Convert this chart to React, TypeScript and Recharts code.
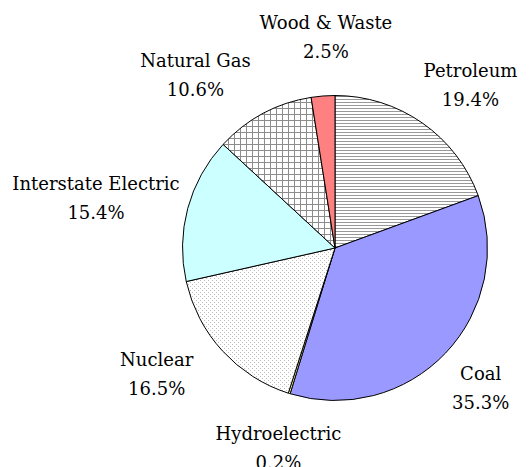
import { Cell, Pie, PieChart } from "recharts";

const categories = [
  "Petroleum",
  "Coal",
  "Hydroelectric",
  "Nuclear",
  "Interstate Electric",
  "Natural Gas",
  "Wood & Waste",
];
const shares = [19.4, 35.3, 0.2, 16.5, 15.4, 10.6, 2.5];

const fills = [
  "url(#hatchLines)",
  "#9999ff",
  "#ffff99",
  "url(#dots)",
  "#ccffff",
  "url(#grid)",
  "#ff8080",
];

// label placement tweaks (like Excel's best-fit), relative to radial anchor
const labelNudge = [
  [18, 4],
  [-3, -2],
  [5, 3.5],
  [-27, -13.5],
  [-41, 2.5],
  [-43, 7],
  [7, -8],
];

const data = categories.map((name, i) => ({ name, value: shares[i] }));

const RAD = Math.PI / 180;
const LABEL_RADIUS = 205;

function renderLabel(props: any) {
  const { cx, cy, midAngle, index, name, value } = props;
  const [dx, dy] = labelNudge[index] ?? [0, 0];
  const x = cx + LABEL_RADIUS * Math.cos(midAngle * RAD) + dx;
  const y = cy - LABEL_RADIUS * Math.sin(midAngle * RAD) + dy;
  return (
    <text
      x={x}
      y={y}
      textAnchor="middle"
      fill="#000"
      fontFamily="DejaVu Serif"
      fontSize={18}
    >
      <tspan x={x} y={y - 7}>
        {name}
      </tspan>
      <tspan x={x} y={y + 22}>
        {`${Number(value).toFixed(1)}%`}
      </tspan>
    </text>
  );
}

export default function App() {
  return (
    <div style={{ position: "absolute", left: 0, top: 0, width: 531, height: 467, background: "#fff" }}>
      <PieChart width={531} height={467} margin={{ top: 0, right: 0, bottom: 0, left: 0 }}>
        <defs>
          <pattern id="hatchLines" width="6" height="3" patternUnits="userSpaceOnUse">
            <rect width="6" height="3" fill="#fff" />
            <rect y="0" width="6" height="1" fill="#999" />
          </pattern>
          <pattern id="grid" width="6" height="6" patternUnits="userSpaceOnUse">
            <rect width="6" height="6" fill="#fff" />
            <rect x="0" y="0" width="6" height="1" fill="#8c8c8c" />
            <rect x="0" y="0" width="1" height="6" fill="#8c8c8c" />
          </pattern>
          <pattern id="dots" width="4" height="4" patternUnits="userSpaceOnUse">
            <rect width="4" height="4" fill="#fff" />
            <rect x="0" y="0" width="1" height="1" fill="#bdbdbd" />
            <rect x="2" y="2" width="1" height="1" fill="#bdbdbd" />
          </pattern>
        </defs>
        <Pie
          data={data}
          dataKey="value"
          nameKey="name"
          cx={335}
          cy={248}
          outerRadius={152.5}
          startAngle={90}
          endAngle={-270}
          stroke="#000"
          strokeWidth={1}
          label={renderLabel}
          labelLine={false}
          isAnimationActive={false}
        >
          {data.map((d, i) => (
            <Cell key={d.name} fill={fills[i]} />
          ))}
        </Pie>
      </PieChart>
    </div>
  );
}
